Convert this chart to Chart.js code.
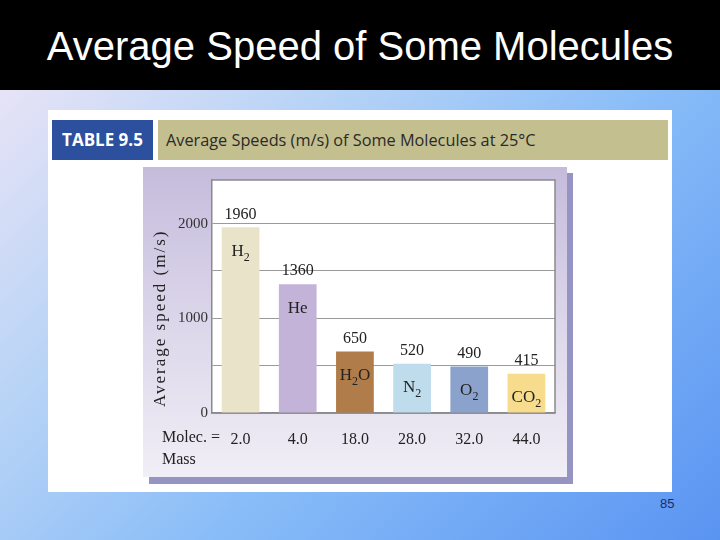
<!DOCTYPE html>
<html>
<head>
<meta charset="utf-8">
<script src="https://cdn.jsdelivr.net/npm/chart.js@4/dist/chart.umd.min.js"></script>
<style>
  body { margin: 0; width: 720px; height: 540px; overflow: hidden; position: relative;
    background: linear-gradient(135deg, #f4e8f6 0%, #b4d2f6 35%, #88bcf8 60%, #5a94f2 100%); }
  #titlebar { position: absolute; left: 0; top: 0; width: 720px; height: 90px; background: #000; }
  #titlebar h1 { margin: 0; font: 40px "Liberation Sans", Arial, sans-serif; color: #fff;
    text-align: center; line-height: 92px; }
  #card { position: absolute; left: 48px; top: 110px; width: 624px; height: 382px; background: #fff; }
  #tag { position: absolute; left: 52px; top: 120px; width: 101px; height: 40px; background: #2c4f9e;
    color: #fff; font: bold 17px "Open Sans", sans-serif; line-height: 40px; text-align: center; }
  #caption { position: absolute; left: 158px; top: 120px; width: 510px; height: 40px; background: #c4bf8e;
    color: #2a2a2a; font: 16.3px "Open Sans", sans-serif; line-height: 40px; padding-left: 8px; box-sizing: border-box; }
  #shadow { position: absolute; left: 149px; top: 173px; width: 424px; height: 311px; background: #9594c3; }
  #panel { position: absolute; left: 143px; top: 167px; width: 424px; height: 310px;
    background: linear-gradient(180deg, #c5bcdc 0%, #dcd6ea 50%, #f0eef6 100%); }
  #page { position: absolute; left: 660px; top: 496px; font: 13px "Liberation Sans", Arial, sans-serif; color: #1c2a66; }
</style>
</head>
<body>
<div id="titlebar"><h1>Average Speed of Some Molecules</h1></div>
<div id="card"></div>
<div id="tag">TABLE 9.5</div>
<div id="caption">Average Speeds (m/s) of Some Molecules at 25°C</div>
<div id="shadow"></div>
<div id="panel"><canvas id="speedChart" width="424" height="310"></canvas></div>
<div id="page">85</div>

<script>
const masses = ['2.0', '4.0', '18.0', '28.0', '32.0', '44.0'];
const molecules = ['H2', 'He', 'H2O', 'N2', 'O2', 'CO2'];
const speeds = [1960, 1360, 650, 520, 490, 415];
const barColors = ['#e9e4c9', '#c3b3d8', '#b07d4a', '#bedcec', '#8ba3cc', '#f6dc8c'];
const yGridValues = [0, 500, 1000, 1500, 2000];
const yTickValues = [0, 1000, 2000];
const yTitle = 'Average speed (m/s)';
const massLabel = ['Molec. =', 'Mass'];

const SERIF = '"Liberation Serif", "Times New Roman", serif';

// draw a formula with digits as subscripts, centred on x
function drawFormula(ctx, text, x, y, size) {
  const parts = text.match(/[A-Za-z]+|\d+/g);
  const big = `${size}px ${SERIF}`;
  const small = `${Math.round(size * 0.72)}px ${SERIF}`;
  let total = 0;
  parts.forEach(p => {
    ctx.font = /\d/.test(p) ? small : big;
    total += ctx.measureText(p).width;
  });
  let cx = x - total / 2;
  ctx.textAlign = 'left';
  parts.forEach(p => {
    const sub = /\d/.test(p);
    ctx.font = sub ? small : big;
    ctx.fillText(p, cx, sub ? y + size * 0.38 : y);
    cx += ctx.measureText(p).width;
  });
}

// white plot background + frame
const plotFrame = {
  id: 'plotFrame',
  beforeDraw(chart) {
    const { ctx, chartArea: a } = chart;
    ctx.save();
    ctx.fillStyle = '#fff';
    ctx.fillRect(a.left, a.top, a.right - a.left, a.bottom - a.top);
    ctx.restore();
  },
  afterDraw(chart) {
    const { ctx, chartArea: a } = chart;
    ctx.save();
    ctx.strokeStyle = '#8a8a8a';
    ctx.lineWidth = 1.5;
    ctx.beginPath();
    ctx.moveTo(a.left, a.top);
    ctx.lineTo(a.right, a.top);
    ctx.lineTo(a.right, a.bottom);
    ctx.stroke();
    ctx.restore();
  }
};

// value labels, formulas, y title and the "Molec. = Mass" row
const barText = {
  id: 'barText',
  afterDatasetsDraw(chart) {
    const { ctx, chartArea: a } = chart;
    const meta = chart.getDatasetMeta(0);
    ctx.save();
    ctx.fillStyle = '#222';
    ctx.textBaseline = 'middle';
    meta.data.forEach((bar, i) => {
      ctx.font = `16px ${SERIF}`;
      ctx.textAlign = 'center';
      ctx.fillText(String(speeds[i]), bar.x, bar.y - 13);
      drawFormula(ctx, molecules[i], bar.x, bar.y + 24, 17);
    });

    // y axis title
    const yScale = chart.scales.y;
    ctx.save();
    ctx.translate(18, yScale.getPixelForValue(1000));
    ctx.rotate(-Math.PI / 2);
    ctx.font = `17px ${SERIF}`;
    ctx.letterSpacing = '2px';
    ctx.textAlign = 'center';
    ctx.fillText(yTitle, 0, 0);
    ctx.restore();

    // mass row label
    ctx.font = `16px ${SERIF}`;
    ctx.textAlign = 'left';
    ctx.fillText(massLabel[0], a.left - 50, a.bottom + 25);
    ctx.fillText(massLabel[1], a.left - 50, a.bottom + 47);
    ctx.restore();
  }
};

new Chart(document.getElementById('speedChart'), {
  type: 'bar',
  data: {
    labels: masses,
    datasets: [{
      data: speeds,
      backgroundColor: barColors,
      borderWidth: 0,
      barPercentage: 0.66,
      categoryPercentage: 1
    }]
  },
  options: {
    responsive: false,
    animation: false,
    layout: { padding: { top: 11, right: 12, left: 0, bottom: 0 } },
    plugins: { legend: { display: false }, tooltip: { enabled: false } },
    scales: {
      x: {
        grid: { display: false },
        border: { color: '#8a8a8a', width: 1.5 },
        ticks: { color: '#222', font: { family: SERIF, size: 16 }, padding: 9, maxRotation: 0 },
        afterFit: scale => { scale.height = 64; }
      },
      y: {
        min: 0,
        max: 2460,
        grid: { color: '#9a9a9a', lineWidth: 1, drawTicks: false },
        border: { color: '#8a8a8a', width: 1.5 },
        ticks: {
          autoSkip: false,
          padding: 4,
          color: '#333',
          font: { family: SERIF, size: 15 },
          callback: v => yTickValues.includes(v) ? String(v) : ''
        },
        afterBuildTicks: scale => { scale.ticks = yGridValues.map(v => ({ value: v })); },
        afterFit: scale => { scale.width = 69; }
      }
    }
  },
  plugins: [plotFrame, barText]
});
</script>
</body>
</html>
